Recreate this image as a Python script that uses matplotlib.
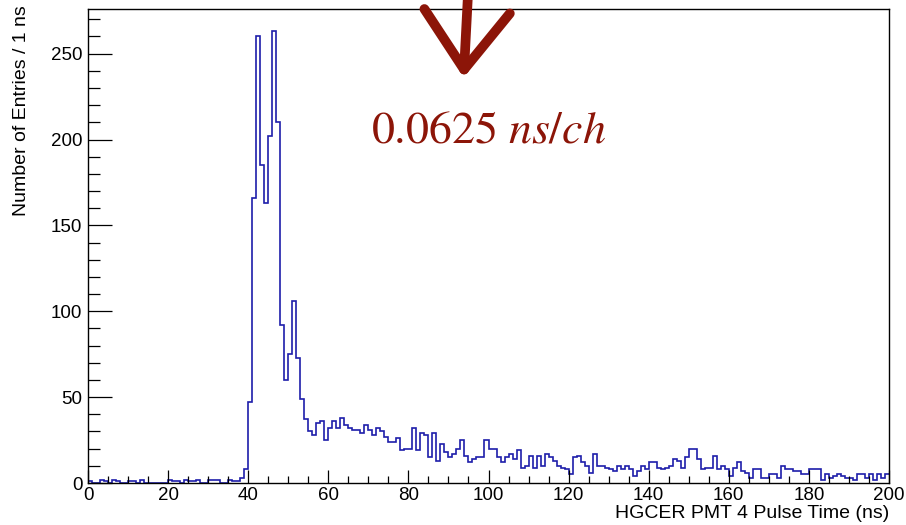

# HGCER PMT 4 pulse time histogram (ROOT-style reproduction)

import numpy as np
import matplotlib
matplotlib.use("Agg")
import matplotlib.pyplot as plt
from matplotlib.ticker import MultipleLocator

# Data: counts per 1 ns bin, 0 - 200 ns
bin_edges = np.arange(0, 201, 1)
counts_0_39 = [1, 0, 0, 2, 1, 0, 2, 1, 0, 0, 1, 1, 0, 2, 0, 0, 0, 0, 0, 0,
               2, 1, 1, 0, 2, 1, 1, 2, 0, 0, 2, 2, 2, 0, 0, 2, 1, 1, 3, 8]
counts_40_59 = [47, 166, 260, 185, 163, 202, 263, 210, 92, 60,
                75, 106, 73, 49, 37, 30, 28, 35, 36, 25]
counts_60_99 = [32, 36, 32, 38, 34, 32, 31, 31, 29, 34,
                31, 28, 32, 30, 27, 24, 24, 26, 19, 20,
                20, 32, 19, 29, 28, 15, 29, 13, 23, 18,
                15, 17, 20, 25, 16, 12, 14, 15, 15, 25]
counts_100_149 = [20, 20, 15, 12, 15, 17, 14, 19, 9, 10,
                  16, 9, 16, 10, 17, 15, 13, 10, 9, 8,
                  5, 15, 16, 12, 10, 6, 17, 10, 10, 9,
                  8, 7, 10, 8, 10, 8, 4, 7, 10, 8,
                  12, 12, 9, 8, 9, 10, 14, 13, 9, 15]
counts_150_199 = [20, 20, 14, 8, 9, 9, 16, 8, 10, 8,
                  4, 9, 12, 7, 6, 3, 8, 8, 3, 3,
                  5, 5, 3, 10, 8, 8, 7, 7, 5, 5,
                  8, 8, 8, 2, 5, 3, 4, 5, 4, 3,
                  3, 2, 5, 5, 3, 5, 2, 5, 3, 5]
counts = np.array(counts_0_39 + counts_40_59 + counts_60_99 + counts_100_149 + counts_150_199)

x_label = "HGCER PMT 4 Pulse Time (ns)"
y_label = "Number of Entries / 1 ns"
note_text = r"$0.0625\ ns/ch$"

# Style
plt.rcParams['font.family'] = ['Liberation Sans', 'DejaVu Sans']
plt.rcParams['mathtext.fontset'] = 'stix'
hist_color = "#1e1eaa"
note_color = "#8c1508"

fig = plt.figure(figsize=(9.06, 5.25), dpi=100)
ax = fig.add_axes([88/906, 1 - 483/525, (889 - 88)/906, (483 - 9)/525])

ax.stairs(counts, bin_edges, color=hist_color, lw=1.2, baseline=None)

ax.set_xlim(0, 200)
ax.set_ylim(0, 276)

# ROOT-like ticks: inside, left/bottom only
ax.xaxis.set_major_locator(MultipleLocator(20))
ax.xaxis.set_minor_locator(MultipleLocator(5))
ax.yaxis.set_major_locator(MultipleLocator(50))
ax.yaxis.set_minor_locator(MultipleLocator(10))
ax.tick_params(axis='x', which='major', direction='in', length=9.5, width=0.9, labelsize=13.5, pad=3)
ax.tick_params(axis='x', which='minor', direction='in', length=4.8, width=0.9)
ax.tick_params(axis='y', which='major', direction='in', length=17, width=0.9, labelsize=13.5, pad=4)
ax.tick_params(axis='y', which='minor', direction='in', length=8.5, width=0.9)
for sp in ax.spines.values():
    sp.set_linewidth(1.0)

ax.set_xlabel(x_label, fontsize=14, ha='right')
ax.xaxis.set_label_coords(1.0, -0.046)
ax.set_ylabel(y_label, fontsize=14, ha='right')
ax.yaxis.set_label_coords(-0.073, 1.008)

# Annotation: bin width note with a hand-drawn style arrow
ax.text(100, 205, note_text, color=note_color, fontsize=33, ha='center', va='center')
ax.annotate('', xy=(93.8, 236), xytext=(95.0, 290), annotation_clip=False,
            arrowprops=dict(arrowstyle='->, head_length=3.0, head_width=2.2',
                            color=note_color, lw=7, mutation_scale=14,
                            shrinkA=0, shrinkB=0))

fig.savefig("out.png", dpi=100)
